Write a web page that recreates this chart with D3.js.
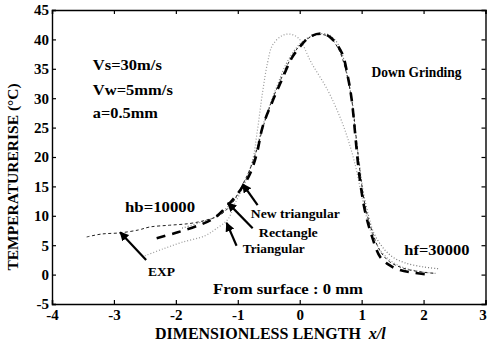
<!DOCTYPE html>
<html>
<head>
<meta charset="utf-8">
<script src="https://cdn.jsdelivr.net/npm/d3@7/dist/d3.min.js"></script>
<style>
  html, body { margin: 0; padding: 0; background: #fff; }
  svg text { font-family: "Liberation Serif", "Times New Roman", serif; font-weight: bold; fill: #000; }
</style>
</head>
<body>
<svg id="chart" width="487" height="343"></svg>
<script>
// Temperature rise along the dimensionless length x/l (down grinding, surface 0 mm)
const xTicks = [-4, -3, -2, -1, 0, 1, 2, 3];
const yTicks = [-5, 0, 5, 10, 15, 20, 25, 30, 35, 40, 45];

// Measured curve (thin dashed)
const expData = [
  [-3.44, 6.4], [-3.2, 6.9], [-2.9, 7.1], [-2.6, 7.6], [-2.42, 8.1], [-2.1, 8.4],
  [-1.77, 8.7], [-1.5, 9.3], [-1.29, 10.1], [-1.1, 12.0], [-0.95, 14.8], [-0.82, 17.5],
  [-0.7, 21.0], [-0.58, 25.5], [-0.45, 29.5], [-0.3, 33.3], [-0.13, 37.0], [0.05, 39.5],
  [0.25, 40.7], [0.45, 40.6], [0.62, 38.5], [0.75, 34.5], [0.85, 29.0], [0.92, 22.5],
  [0.98, 17.0], [1.06, 11.5], [1.18, 7.0], [1.3, 4.0], [1.45, 2.2], [1.7, 1.0],
  [2.0, 0.4], [2.2, 0.2]
];

// Rectangular heat source model (heavy dashes)
const rectangleData = [
  [-2.31, 6.2], [-1.97, 7.2], [-1.6, 8.5], [-1.37, 9.7], [-1.16, 11.8], [-0.95, 14.5],
  [-0.8, 17.2], [-0.69, 20.7], [-0.6, 25.1], [-0.45, 29.2], [-0.29, 33.1], [-0.13, 36.8],
  [0.0, 38.7], [0.16, 40.4], [0.35, 41.0], [0.5, 40.3], [0.68, 37.7], [0.78, 33.5],
  [0.84, 29.7], [0.9, 23.4], [0.94, 19.0], [0.98, 15.5], [1.05, 11.0], [1.16, 6.7],
  [1.3, 3.0], [1.45, 1.6], [1.61, 0.8], [1.85, 0.3], [2.1, 0.0]
];

// Triangular heat source model (light dotted)
const triangularData = [
  [-2.5, 3.2], [-2.2, 4.4], [-1.9, 5.5], [-1.53, 6.6], [-1.35, 7.8], [-1.16, 9.4],
  [-1.05, 12.0], [-0.9, 15.2], [-0.76, 19.5], [-0.69, 24.0], [-0.6, 31.0], [-0.52, 36.0],
  [-0.44, 39.0], [-0.29, 40.6], [-0.16, 40.9], [-0.02, 40.2], [0.19, 36.0], [0.45, 31.4],
  [0.65, 26.8], [0.78, 23.0], [0.9, 18.5], [1.0, 13.5], [1.1, 9.0], [1.2, 6.0],
  [1.35, 3.5], [1.55, 1.8], [1.8, 0.8], [2.2, 0.2]
];

// New triangular heat source model (grey dotted)
const newTriangularData = [
  [-1.9, 7.9], [-1.6, 8.9], [-1.32, 10.1], [-1.0, 13.5], [-0.89, 15.7], [-0.75, 19.5],
  [-0.62, 24.5], [-0.5, 28.3], [-0.35, 32.5], [-0.2, 36.2], [0.0, 39.2], [0.2, 40.6],
  [0.44, 40.9], [0.58, 39.8], [0.68, 37.7], [0.76, 34.3], [0.85, 29.2], [0.89, 25.0],
  [0.95, 20.0], [1.02, 14.5], [1.1, 10.5], [1.2, 7.0], [1.35, 4.5], [1.5, 3.0],
  [1.7, 2.0], [2.0, 1.3], [2.25, 1.0]
];

const svg = d3.select("#chart");
const margin = { left: 52, top: 10, right: 1.5, bottom: 39 };
const W = 487, H = 343;
const x = d3.scaleLinear().domain([-4, 3]).range([margin.left, W - margin.right]);
const y = d3.scaleLinear().domain([-5, 45]).range([H - margin.bottom, margin.top]);

const x0 = x.range()[0], x1 = x.range()[1], y0 = y.range()[0], y1 = y.range()[1];

// Curves
const line = d3.line().x(d => x(d[0])).y(d => y(d[1])).curve(d3.curveCatmullRom.alpha(0.5));

const series = [
  { data: triangularData, stroke: "#9a9a9a", width: 1.2, dash: "1,2" },
  { data: newTriangularData, stroke: "#7a7a7a", width: 1.2, dash: "1,2" },
  { data: expData, stroke: "#222", width: 1, dash: "3,2.5" },
  { data: rectangleData, stroke: "#000", width: 2.6, dash: "9,7" }
];

svg.append("g").selectAll("path").data(series).join("path")
  .attr("d", d => line(d.data))
  .attr("fill", "none")
  .attr("stroke", d => d.stroke)
  .attr("stroke-width", d => d.width)
  .attr("stroke-dasharray", d => d.dash)
  .attr("stroke-linecap", "butt");

// Frame with inward ticks on all four sides; plain hyphen for negatives
const fmt = d => String(d);
const axes = svg.append("g");
const bottomAxis = axes.append("g").attr("transform", `translate(0,${y0})`)
  .call(d3.axisBottom(x).tickValues(xTicks).tickSize(-4).tickPadding(5).tickFormat(fmt));
axes.append("g").attr("transform", `translate(0,${y1})`)
  .call(d3.axisTop(x).tickValues(xTicks).tickSize(-4).tickFormat(""));
axes.append("g").attr("transform", `translate(${x0},0)`)
  .call(d3.axisLeft(y).tickValues(yTicks).tickSize(-4).tickPadding(3).tickFormat(fmt));
axes.append("g").attr("transform", `translate(${x1},0)`)
  .call(d3.axisRight(y).tickValues(yTicks).tickSize(-4).tickFormat(""));
axes.selectAll("path.domain").attr("stroke", "#000").attr("stroke-width", 1.4);
axes.selectAll(".tick line").attr("stroke", "#000").attr("stroke-width", 1.2);
axes.selectAll(".tick text")
  .style("font-family", "'Liberation Serif', 'Times New Roman', serif")
  .style("font-weight", "bold").style("font-size", "15px").attr("fill", "#000");
// last x label sits against the right edge of the page
bottomAxis.selectAll(".tick text").filter(d => d === 3).attr("dx", -3);

// Axis titles
const xt = svg.append("text").attr("x", 155).attr("y", 339).style("font-size", "16px");
xt.append("tspan").text("DIMENSIONLESS LENGTH");
xt.append("tspan").attr("dx", 8).style("font-style", "italic").text("x/l");

svg.append("text")
  .attr("transform", "translate(18,177) rotate(-90)")
  .attr("text-anchor", "middle")
  .style("font-size", "15.5px")
  .text("TEMPERATURERISE (\u00B0C)");

// Annotations (positions in data units)
const notes = [
  { t: "Vs=30m/s", x: -3.34, y: 34.8, w: 69, s: 14 },
  { t: "Vw=5mm/s", x: -3.34, y: 30.5, w: 80, s: 14 },
  { t: "a=0.5mm", x: -3.34, y: 26.6, w: 65, s: 14 },
  { t: "Down Grinding", x: 1.16, y: 33.6, w: 90, s: 14 },
  { t: "hb=10000", x: -2.82, y: 10.6, w: 70, s: 15 },
  { t: "New triangular", x: -0.79, y: 9.6, w: 89, s: 13 },
  { t: "Rectangle", x: -0.66, y: 6.4, w: 59, s: 13 },
  { t: "Triangular", x: -0.92, y: 3.7, w: 62, s: 13 },
  { t: "hf=30000", x: 1.69, y: 3.3, w: 65, s: 15 },
  { t: "From surface : 0 mm", x: -1.40, y: -3.3, w: 150, s: 15 },
  { t: "EXP", x: -2.45, y: -0.25, w: 27, s: 13 }
];
svg.append("g").selectAll("text").data(notes).join("text")
  .attr("x", d => x(d.x)).attr("y", d => y(d.y))
  .attr("textLength", d => d.w).attr("lengthAdjust", "spacingAndGlyphs")
  .style("font-size", d => d.s + "px")
  .text(d => d.t);

// Arrows pointing at the curves
svg.append("defs").append("marker")
  .attr("id", "head").attr("viewBox", "0 0 10 10").attr("refX", 9).attr("refY", 5)
  .attr("markerWidth", 4.2).attr("markerHeight", 4.2).attr("orient", "auto")
  .append("path").attr("d", "M0,0 L10,5 L0,10 Z").attr("fill", "#000");

const arrows = [
  { from: [-2.48, 2.5], to: [-2.90, 7.2] },
  { from: [-0.68, 11.8], to: [-0.92, 15.4] },
  { from: [-0.76, 7.9], to: [-1.16, 12.2] },
  { from: [-1.02, 4.9], to: [-1.18, 8.8] }
];
svg.append("g").selectAll("line").data(arrows).join("line")
  .attr("x1", d => x(d.from[0])).attr("y1", d => y(d.from[1]))
  .attr("x2", d => x(d.to[0])).attr("y2", d => y(d.to[1]))
  .attr("stroke", "#000").attr("stroke-width", 2.2)
  .attr("marker-end", "url(#head)");
</script>
</body>
</html>
